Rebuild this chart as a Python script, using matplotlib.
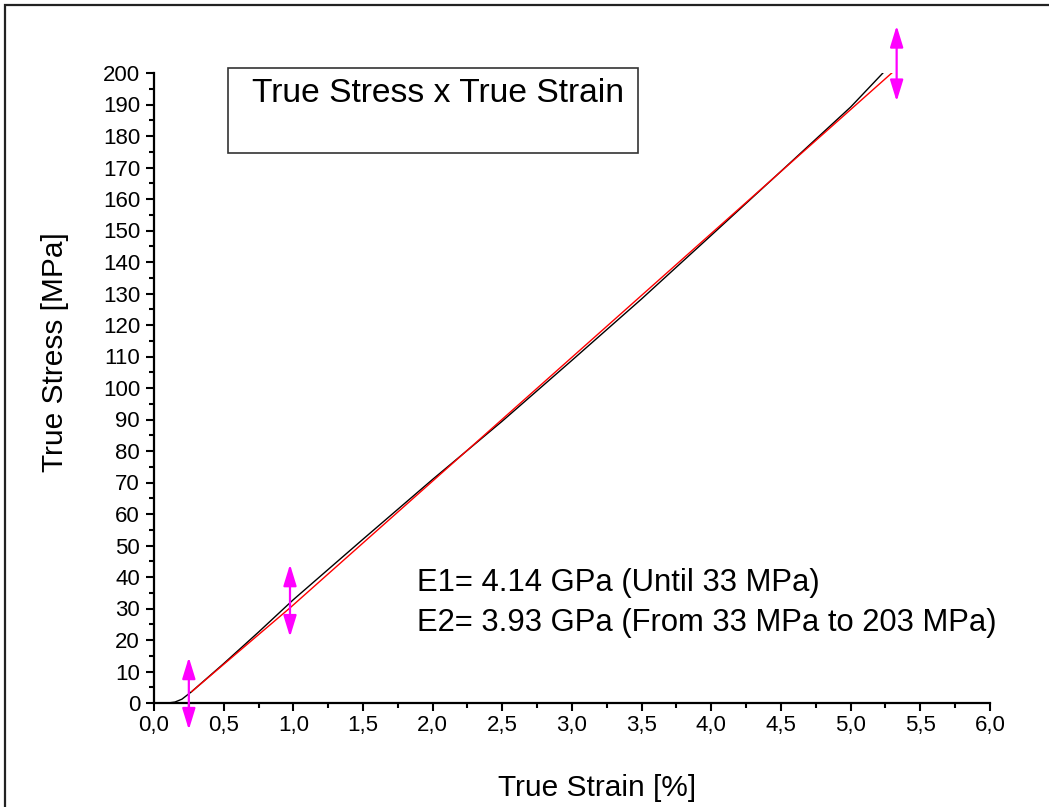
import matplotlib
matplotlib.use("Agg")
import matplotlib.pyplot as plt
from matplotlib.patches import Rectangle
from matplotlib.ticker import MultipleLocator, FuncFormatter

plt.rcParams['font.family'] = ['Liberation Sans', 'DejaVu Sans']

# measured curve (true strain %, true stress MPa)
strain = [0.10, 0.15, 0.20, 0.27, 0.50, 0.75, 1.00, 1.50, 2.00, 2.50, 3.00, 3.50, 4.00, 4.50, 5.00, 5.24]
stress = [0.0, 0.3, 1.2, 3.6, 12.5, 22.5, 32.8, 52.0, 71.0, 89.5, 108.8, 128.3, 148.5, 168.8, 189.2, 200.4]

# fitted lines (E1 then E2)
fit_strain = [0.27, 0.976, 5.295]
fit_stress = [3.6, 30.2, 200.0]

# double arrows marking fit ranges: (x, y_bottom, y_top)
arrow_x = [0.25, 0.976, 5.33]
arrow_lo = [-8.5, 21.0, 191.0]
arrow_hi = [14.5, 44.0, 215.0]

title = "True Stress x True Strain"
note1 = "E1= 4.14 GPa (Until 33 MPa)"
note2 = "E2= 3.93 GPa (From 33 MPa to 203 MPa)"

W, H = 1049, 807
fig = plt.figure(figsize=(W / 100, H / 100), dpi=100)
fig.patch.set_facecolor('white')

# outer frame
fig.patches.append(Rectangle((5 / W, -0.5), 2.0, 1.5 - 5 / H, transform=fig.transFigure,
                             fill=False, edgecolor='#222222', linewidth=1.6))

ax = fig.add_axes([154 / W, 1 - 703 / H, (990 - 154) / W, (703 - 73) / H])
ax.set_xlim(0, 6.0)
ax.set_ylim(0, 200)

ax.plot(strain, stress, color='black', lw=1.0, zorder=3)
ax.plot(fit_strain, fit_stress, color='red', lw=1.0, zorder=4)

for x, lo, hi in zip(arrow_x, arrow_lo, arrow_hi):
    ax.annotate('', xy=(x, hi), xytext=(x, lo),
                arrowprops=dict(arrowstyle='<|-|>,head_length=0.65,head_width=0.2',
                                color='#ff00ff', lw=1.6, shrinkA=0, shrinkB=0,
                                mutation_scale=20),
                annotation_clip=False, zorder=5)

for s in ['top', 'right']:
    ax.spines[s].set_visible(False)
for s in ['left', 'bottom']:
    ax.spines[s].set_linewidth(1.6)

ax.xaxis.set_major_locator(MultipleLocator(0.5))
ax.xaxis.set_minor_locator(MultipleLocator(0.25))
ax.yaxis.set_major_locator(MultipleLocator(10))
ax.yaxis.set_minor_locator(MultipleLocator(5))
ax.xaxis.set_major_formatter(FuncFormatter(lambda v, p: f"{v:.1f}".replace('.', ',')))
ax.yaxis.set_major_formatter(FuncFormatter(lambda v, p: f"{v:.0f}"))
ax.tick_params(which='major', direction='out', length=6, width=1.5, labelsize=16)
ax.tick_params(axis='x', which='major', pad=3)
ax.tick_params(axis='y', which='major', pad=4)
ax.tick_params(which='minor', direction='out', length=3.5, width=1.5)

ax.set_xlabel("True Strain [%]", fontsize=21.5)
ax.set_ylabel("True Stress [MPa]", fontsize=21.5)
ax.xaxis.set_label_coords(0.53, -0.135)
ax.yaxis.set_label_coords(-0.118, 0.557)
ax.xaxis.label.set_va('center')
ax.yaxis.label.set_va('center')

# title box
fig.patches.append(Rectangle((228 / W, 1 - 153 / H), (638 - 228) / W, (153 - 68) / H,
                             transform=fig.transFigure, fill=False,
                             edgecolor='#333333', linewidth=1.2))
fig.text(252 / W, 1 - 93 / H, title, fontsize=24.2, ha='left', va='center')

fig.text(417 / W, 1 - 583 / H, note1, fontsize=22.3, ha='left', va='center')
fig.text(417 / W, 1 - 623 / H, note2, fontsize=22.3, ha='left', va='center')

fig.savefig('out.png', dpi=100)
